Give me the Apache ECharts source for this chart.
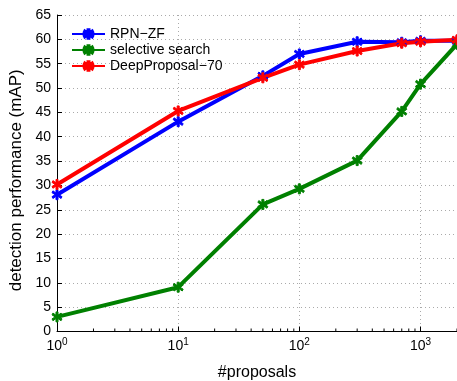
<!DOCTYPE html>
<html>
<head>
<meta charset="utf-8">
<script src="https://cdn.jsdelivr.net/npm/echarts@6/dist/echarts.min.js"></script>
<style>
  html, body { margin: 0; padding: 0; background: #fff; }
  #chart { width: 457px; height: 381px; }
</style>
</head>
<body>
<div id="chart"></div>
<script>
// number of proposals
const proposals = [1, 10, 50, 100, 300, 700, 1000, 2000];
const rpnZF = [28.1, 43.1, 52.5, 57.0, 59.5, 59.4, 59.7, 59.7];
const selectiveSearch = [3.0, 9.1, 26.1, 29.3, 35.1, 45.2, 50.8, 59.0];
const deepProposal = [30.2, 45.3, 52.1, 54.8, 57.6, 59.2, 59.5, 59.9];
const yTicks = [0, 5, 10, 15, 20, 25, 30, 35, 40, 45, 50, 55, 60, 65];

const myChart = echarts.init(document.getElementById('chart'));
const font = 'Liberation Sans, Arial, sans-serif';

// asterisk-like marker
const star = 'path://M-1.3,-6 L1.3,-6 L1.3,-2 L5.2,-4.6 L6.4,-2.4 L2.4,0 L6.4,2.4 L5.2,4.6 L1.3,2 L1.3,6 L-1.3,6 L-1.3,2 L-5.2,4.6 L-6.4,2.4 L-2.4,0 L-6.4,-2.4 L-5.2,-4.6 L-1.3,-2 Z';

function mkSeries(name, vals, color) {
    return {
        name: name,
        type: 'line',
        data: proposals.map((p, i) => [p, vals[i]]),
        symbol: star,
        symbolSize: 10,
        showSymbol: true,
        lineStyle: { color: color, width: 4 },
        itemStyle: { color: color, borderColor: color, borderWidth: 1 },
        silent: true,
        animation: false
    };
}

const option = {
    animation: false,
    grid: { left: 57, right: 0, top: 15, bottom: 49.5, outerBoundsMode: 'none', containLabel: false },
    legend: {
        orient: 'vertical',
        left: 66,
        top: 22,
        itemWidth: 33,
        itemHeight: 12,
        itemGap: 2,
        textStyle: { fontFamily: font, fontSize: 14, lineHeight: 13, color: '#000' },
        data: ['RPN\u2212ZF', 'selective search', 'DeepProposal\u221270']
    },
    xAxis: {
        type: 'log',
        logBase: 10,
        min: 1,
        max: 2000,
        name: '#proposals',
        nameLocation: 'middle',
        nameGap: 33,
        nameTextStyle: { fontFamily: font, fontSize: 16, color: '#000' },
        axisLine: { lineStyle: { color: '#000', width: 1 } },
        axisTick: { inside: true, length: 5, lineStyle: { color: '#000' } },
        axisLabel: {
            margin: 6,
            showMaxLabel: false,
            formatter: function (v) {
                const e = Math.round(Math.log10(v));
                if (Math.abs(Math.pow(10, e) - v) > 1e-6) return '';
                return '{b|10}{s|' + e + '}';
            },
            rich: {
                b: { fontFamily: font, fontSize: 14, color: '#000' },
                s: { fontFamily: font, fontSize: 10, color: '#000', verticalAlign: 'top', padding: [0, 0, 8, 0] }
            }
        },
        splitLine: { show: true, lineStyle: { color: '#aaa', type: [1, 3], width: 1 } }
    },
    yAxis: {
        type: 'value',
        min: 0,
        max: 65,
        interval: 5,
        name: 'detection performance (mAP)',
        nameLocation: 'middle',
        nameGap: 31,
        nameTextStyle: { fontFamily: font, fontSize: 17, color: '#000', padding: [0, 14, 0, 0] },
        axisLine: { show: true, lineStyle: { color: '#000', width: 1 } },
        axisTick: { show: true, inside: true, length: 5, lineStyle: { color: '#000' } },
        axisLabel: {
            margin: 6,
            fontFamily: font, fontSize: 14, color: '#000',
            formatter: v => (yTicks.indexOf(v) >= 0 ? String(v) : '')
        },
        splitLine: { show: true, lineStyle: { color: '#aaa', type: [1, 3], width: 1 } }
    },
    series: [
        mkSeries('RPN\u2212ZF', rpnZF, '#0000ff'),
        mkSeries('selective search', selectiveSearch, '#008000'),
        mkSeries('DeepProposal\u221270', deepProposal, '#ff0000')
    ]
};
myChart.setOption(option);

// log minor ticks along bottom axis (2..9 in each decade)
const minor = [];
const y0 = myChart.convertToPixel({ yAxisIndex: 0 }, 0);
for (let k = 0; k <= 3; k++) {
    for (let m = 2; m <= 9; m++) {
        const v = m * Math.pow(10, k);
        if (v > 2000) continue;
        const x = myChart.convertToPixel({ xAxisIndex: 0 }, v);
        minor.push({
            type: 'line',
            shape: { x1: x, y1: y0, x2: x, y2: y0 - 3 },
            style: { stroke: '#000', lineWidth: 1 },
            silent: true
        });
    }
}
myChart.setOption({ graphic: minor });
</script>
</body>
</html>
